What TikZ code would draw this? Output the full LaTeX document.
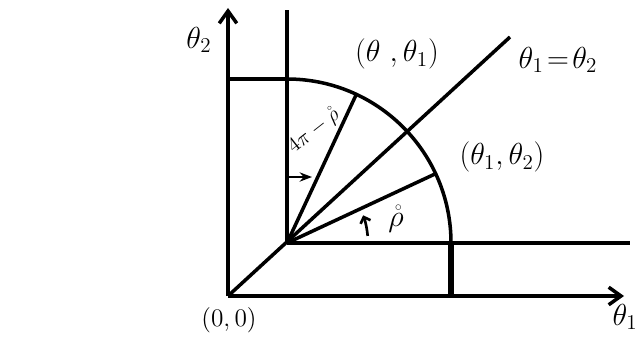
\documentclass[tikz,border=0pt]{standalone}
\usepackage{amsmath}
\usetikzlibrary{arrows.meta}

\begin{document}
\begin{tikzpicture}[x=0.02cm, y=0.02cm,
          ln/.style={line width=2pt},
          ax/.style={-{Straight Barb[length=7pt, width=10pt]}, line width=2pt},
          lbl/.style={font=\LARGE, inner sep=0pt}
        ]
        \useasboundingbox (0,0) rectangle (638,359);

        \coordinate (O)    at (228, 63);
        \coordinate (P)    at (287,116);
        \coordinate (ytop) at (228,351);
        \coordinate (xend) at (624, 63);
        \coordinate (vtop) at (287,349);
        \coordinate (htop) at (228,280);
        \coordinate (ctop) at (287,280);
        \coordinate (cend) at (451,116);
        \coordinate (cbot) at (451, 63);
        \coordinate (hend) at (630,116);
        \coordinate (dend) at (510,322);
        \path (P) ++(65:164) coordinate (ray1);
        \path (P) ++(25:164) coordinate (ray2);
        \coordinate (sh0)  at (288,182);
        \coordinate (sh1)  at (312,182);

        % axes
        \draw[ax] (O) -- (ytop);
        \draw[ax] (O) -- (xend);

        % shifted origin and quarter circle
        \draw[ln] (P) -- (vtop);
        \draw[ln] (P) -- (hend);
        \draw[ln] (htop) -- (ctop) arc (90:0:164);
        \draw[line width=3pt] (cend) -- (cbot);
        \draw[ln] (O) -- (dend);
        \draw[ln] (P) -- (ray1);
        \draw[ln] (P) -- (ray2);

        % angle marks
        \draw[-{Stealth[length=7pt]}, line width=1.2pt] (sh0) -- (sh1);
        \draw[-{Straight Barb[length=3pt]}, line width=1.5pt] (P) ++(5:81) arc (5:20:81);

        % labels
        \node[lbl] (t2)   at (199,319) {$\theta_2$};
        \node[lbl, anchor=east] (t1) at (638, 42) {$\theta_1$};
        \node[lbl, font=\Large] (orig) at (229, 39) {$(0,0)$};
        \node[lbl] (pa)   at (397,305) {$(\theta\ ,\theta_1)$};
        \node[lbl] (pb)   at (502,202) {$(\theta_1,\theta_2)$};
        \node[lbl] (eq)   at (558,299) {$\theta_1\!=\!\theta_2$};
        \node[lbl] (rho)  at (396,140) {$\mathring{\rho}$};
        \node[lbl, font=\large, rotate=38] (comp) at (314,228) {$4\pi-\mathring{\rho}$};
      \end{tikzpicture}
\end{document}
